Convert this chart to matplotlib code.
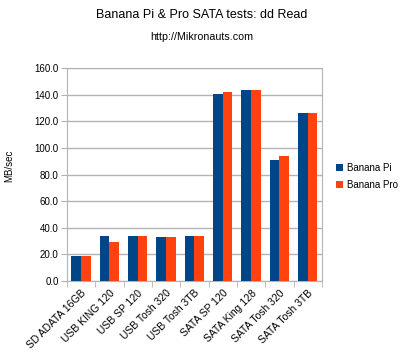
import matplotlib
matplotlib.use("Agg")
import matplotlib.pyplot as plt
import numpy as np

plt.rcParams['font.family'] = ['Liberation Sans', 'DejaVu Sans']

# categories and measured read speeds (MB/sec)
devices = ["SD ADATA 16GB", "USB KING 120", "USB SP 120", "USB Tosh 320", "USB Tosh 3TB",
           "SATA SP 120", "SATA King 128", "SATA Tosh 320", "SATA Tosh 3TB"]
banana_pi = [18.5, 33.8, 34.0, 33.3, 34.0, 140.3, 143.5, 91.3, 126.5]
banana_pro = [18.5, 29.3, 34.0, 33.2, 33.7, 142.2, 143.5, 93.8, 126.3]

fig = plt.figure(figsize=(4.03, 3.53), dpi=100)
ax = fig.add_axes([0.166, 0.204, 0.633, 0.603])

x = np.arange(len(devices))
w = 0.34
ax.bar(x - w/2, banana_pi, w, color='#004586', label='Banana Pi', zorder=3)
ax.bar(x + w/2, banana_pro, w, color='#ff420e', label='Banana Pro', zorder=3)

ax.set_xlim(-0.5, len(devices) - 0.5)
ax.set_ylim(0, 160)
ax.set_yticks(np.arange(0, 161, 20))
ax.set_yticklabels(["%.1f" % v for v in np.arange(0, 161, 20)], fontsize=7)
ax.yaxis.grid(True, color='#b3b3b3', linewidth=1, zorder=0)

ax.set_xticks(x)
ax.set_xticklabels(devices, rotation=45, ha='right', rotation_mode='anchor', fontsize=7.5)
ax.tick_params(axis='x', which='major', length=0, pad=5)
ax.set_xticks(np.arange(-0.5, len(devices), 1), minor=True)
ax.tick_params(axis='x', which='minor', length=4, color='#b3b3b3')
ax.tick_params(axis='y', length=4, color='#b3b3b3', pad=2)

for s in ax.spines.values():
    s.set_color('#b3b3b3')

fig.text(0.022, 0.53, "MB/sec", rotation=90, ha='center', va='center', fontsize=7)

fig.text(0.5, 0.957, "Banana Pi & Pro SATA tests: dd Read", ha='center', va='center', fontsize=9)
fig.text(0.5, 0.895, "http://Mikronauts.com", ha='center', va='center', fontsize=7.7)

ax.legend(loc='center left', bbox_to_anchor=(1.055, 0.49), frameon=False, fontsize=7,
          handlelength=0.7, handleheight=0.7, handletextpad=0.4, labelspacing=0.7,
          borderpad=0, borderaxespad=0)

fig.savefig("out.png", dpi=100)
